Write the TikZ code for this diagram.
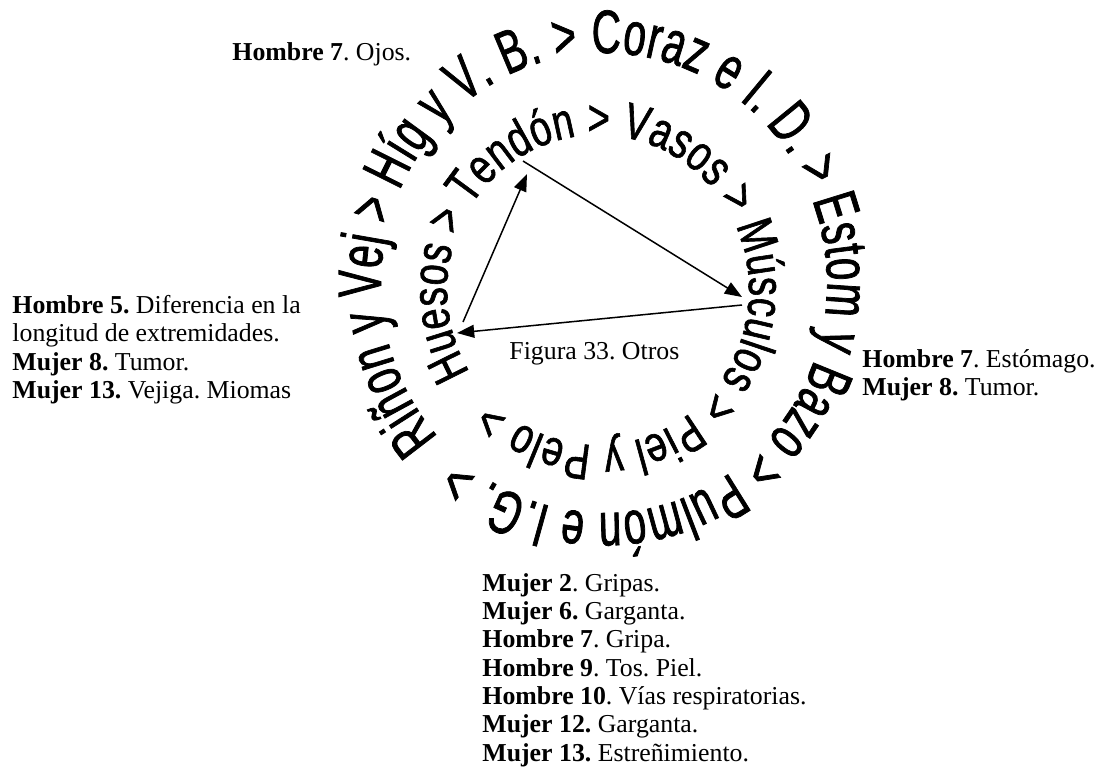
\documentclass[tikz,border=0pt]{standalone}
\usepackage{fontspec}
\setmainfont{Liberation Serif}
\newfontfamily\outerring[FakeStretch=0.66,FakeBold=1.2]{Liberation Sans}
\newfontfamily\innerring[FakeStretch=0.75,FakeBold=1.2]{Liberation Sans}
\usetikzlibrary{decorations.text,arrows.meta}
\frenchspacing

\begin{document}
\begin{tikzpicture}
  [x=0.465pt,y=-0.465pt,every node/.style={inner sep=0pt,font=\fontsize{12}{13.16}\selectfont},
   link/.style={-{Triangle[length=8pt,width=6pt]},line width=0.7pt}]
  \useasboundingbox (0,0) rectangle (1098,778);

  % centres of the two rings
  \coordinate (cOut) at (604,283);
  \coordinate (cIn) at (598,290);

  \path[decorate,decoration={text along path,text align={fit to path},
      text={|\outerring\fontsize{28.5}{30}\selectfont|Riñon y Vej > Híg y V. B. > Coraz e I. D. > Estom y Bazo > Pulmón e I.G. >}}]
    (cOut) ++(-222:223 and 230) arc[start angle=-222,end angle=130,x radius=223,y radius=230];
  \path[decorate,decoration={text along path,text align={fit to path},
      text={|\innerring\fontsize{23.5}{25}\selectfont|Huesos > Tendón > Vasos > Músculos > Piel y Pelo >}}]
    (cIn) ++(-212:151 and 155) arc[start angle=-212,end angle=134,x radius=151,y radius=155];

  % triangle
  \coordinate (tenS) at (523,161);
  \coordinate (tenE) at (527,174);
  \coordinate (musE) at (742,297);
  \coordinate (musS) at (742,305);
  \coordinate (hueE) at (457,333);
  \coordinate (hueS) at (463,322);

  \foreach \from/\to in {tenS/musE, musS/hueE, hueS/tenE}
    \draw[link] (\from) -- (\to);

  \node (fig) [anchor=base west] at (509,359) {Figura 33. Otros};

  \node (ojos) [anchor=base west] at (232,60) {\textbf{Hombre 7}. Ojos.};
  \node (izq) [anchor=north west,align=left] at (12,295)
    {\textbf{Hombre 5.} Diferencia en la\\ longitud de extremidades.\\ \textbf{Mujer 8.} Tumor.\\ \textbf{Mujer 13.} Vejiga. Miomas};
  \node (der) [anchor=north west,align=left] at (862,349)
    {\textbf{Hombre 7}. Estómago.\\ \textbf{Mujer 8.} Tumor.};
  \node (abajo) [anchor=north west,align=left] at (482,573)
    {\textbf{Mujer 2}. Gripas.\\ \textbf{Mujer 6.} Garganta.\\ \textbf{Hombre 7}. Gripa.\\ \textbf{Hombre 9}. Tos. Piel.\\
     \textbf{Hombre 10}. Vías respiratorias.\\ \textbf{Mujer 12.} Garganta.\\ \textbf{Mujer 13.} Estreñimiento.};
\end{tikzpicture}
\end{document}
